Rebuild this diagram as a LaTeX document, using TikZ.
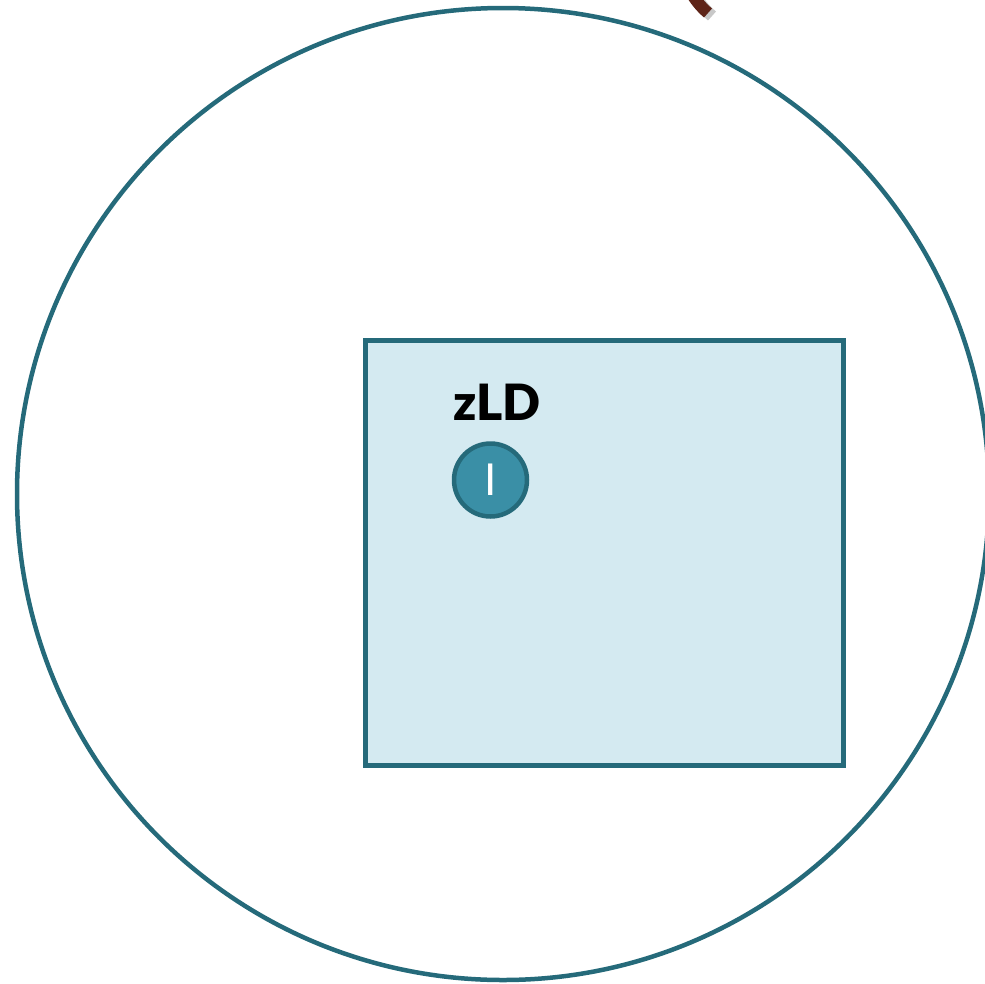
\documentclass[tikz,border=0pt]{standalone}
\usepackage{fontspec}
\setmainfont{Lato}[BoldFont={Lato Black}]
\definecolor{teal}{HTML}{256A7A}
\definecolor{boxfill}{HTML}{D4EAF1}
\definecolor{dotfill}{HTML}{3A8FA6}
\definecolor{brownarc}{HTML}{5E2418}
\definecolor{shadowgray}{HTML}{C8C8C8}
\tikzset{
  outline/.style={draw=teal, line width=4.5pt},
  boxstyle/.style={draw=teal, line width=5pt, fill=boxfill},
  dotstyle/.style={circle, draw=teal, line width=4.5pt, fill=dotfill, minimum size=73pt, inner sep=0pt, text=white, font=\fontsize{44}{44}\selectfont},
  labelstyle/.style={font=\bfseries\fontsize{50}{50}\selectfont, inner sep=0pt}
}
\begin{document}
\begin{tikzpicture}[x=1pt,y=-1pt]
\useasboundingbox (0,0) rectangle (985,983);
\begin{scope}
\clip (0,0) rectangle (985,983);
\draw[outline] (503,494) circle (486);
\draw[shadowgray, line width=12pt] (693,-8) .. controls (699,3) and (705,10) .. (712,16);
\draw[brownarc, line width=12pt] (689,-11) .. controls (695,0) and (701,7) .. (708,13);
\end{scope}
\node[boxstyle, minimum width=478pt, minimum height=425.5pt, anchor=north west, inner sep=0pt] (box) at (362.5,337.5) {};
\node[labelstyle] (lbl) at (497,402) {zLD};
\node[dotstyle] (dot) at (490.5,480) {I};
\end{tikzpicture}
\end{document}
